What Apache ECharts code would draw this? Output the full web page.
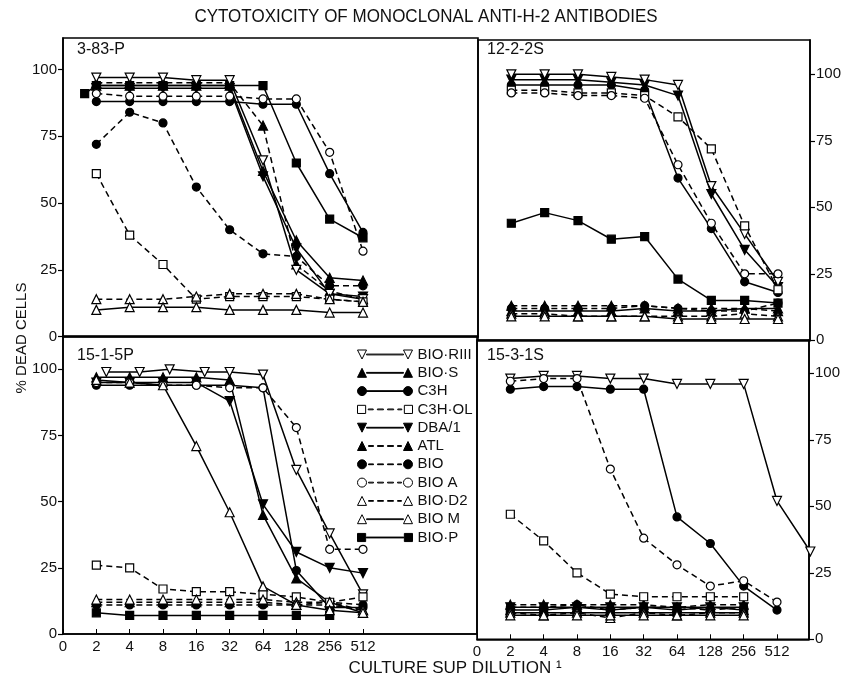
<!DOCTYPE html>
<html><head><meta charset="utf-8">
<script src="https://cdn.jsdelivr.net/npm/echarts@6/dist/echarts.min.js"></script>
<style>html,body{margin:0;padding:0;background:#fff}#c{width:845px;height:682px}</style>
</head><body><div id="c"></div>
<script>
// ---------- data ----------
const DILUTION_LABELS = ['0','2','4','8','16','32','64','128','256','512'];
const X = [1,2,3,4,5,6,7,8,9];               // axis position of dilutions 2..512
const SERIES_NAMES = ['BIO·RIII','BIO·S','C3H','C3H·OL','DBA/1','ATL','BIO','BIO A','BIO·D2','BIO M','BIO·P'];
const PANEL_LABELS = ['3-83-P','12-2-2S','15-1-5P','15-3-1S'];
const Y_TICKS = [0,25,50,75,100];

// % dead cells, one value per dilution (2 .. 512)
const P_383P = {
  'BIO·RIII': [97,97,97,96,96,66,25,16,14],
  'BIO·S':    [94,94,94,94,94,62,36,22,21],
  'C3H':      [88,88,88,88,88,87,87,61,39],
  'C3H·OL':   [61,38,27,14,15,15,15,14,13],
  'DBA/1':    [93,93,93,93,93,60,33,16,15],
  'ATL':      [95,95,95,95,95,79,27,17,14],
  'BIO':      [72,84,80,56,40,31,30,19,19],
  'BIO A':    [91,90,90,90,90,89,89,69,32],
  'BIO·D2':   [14,14,14,15,16,16,16,14,13],
  'BIO M':    [10,11,11,11,10,10,10,9,9],
  'BIO·P':    [91,94,94,94,94,94,94,65,44,37]
};
const P_383P_X = { 'BIO·P': [0.65,1,2,3,4,5,6,7,8,9] };

const P_1222S = {
  'BIO·RIII': [100,100,100,99,98,96,58,40,22],
  'BIO·S':    [11,11,11,11,12,11,11,12,12],
  'C3H':      [96,96,96,96,94,61,42,22,18],
  'C3H·OL':   [94,94,93,93,92,84,72,43,19],
  'DBA/1':    [98,98,98,97,96,92,55,34,20],
  'ATL':      [13,13,13,13,13,12,12,12,11],
  'BIO':      [12,12,12,12,13,12,11,11,14],
  'BIO A':    [93,93,92,92,91,66,44,25,25],
  'BIO·D2':   [10,10,9,9,9,9,9,10,9],
  'BIO M':    [9,9,9,9,9,8,8,8,8],
  'BIO·P':    [44,48,45,38,39,23,15,15,14]
};

const P_1515P = {
  'BIO·RIII': [99,99,100,99,99,98,62,38,15],
  'BIO·S':    [97,97,97,97,96,45,21,12,8],
  'C3H':      [94,94,94,94,94,93,24,10,10],
  'C3H·OL':   [26,25,17,16,16,15,14,12,14],
  'DBA/1':    [95,95,95,95,88,49,31,25,23],
  'ATL':      [12,12,12,12,12,12,11,11,9],
  'BIO':      [11,11,11,11,11,11,11,12,11],
  'BIO A':    [95,95,94,94,93,93,78,32,32],
  'BIO·D2':   [13,13,13,13,13,13,12,12,9],
  'BIO M':    [96,95,94,71,46,18,11,9,8],
  'BIO·P':    [8,7,7,7,7,7,7,7,null]
};
const P_1515P_X = { 'BIO·RIII': [1.3,2.3,3.2,4.25,5,6,7,8,9] };

const P_1531S = {
  'BIO·RIII': [98,99,99,98,98,96,96,96,52,33],
  'BIO·S':    [11,11,12,11,12,11,12,11],
  'C3H':      [94,95,95,94,94,46,36,20,11],
  'C3H·OL':   [47,37,25,17,16,16,16,16],
  'DBA/1':    [12,12,12,12,12,12,12,12],
  'ATL':      [13,13,13,13,13,12,13,13],
  'BIO':      [12,12,13,11,12,12,11,12],
  'BIO A':    [97,98,98,64,38,28,20,22,14],
  'BIO·D2':   [10,9,10,8,10,9,10,10],
  'BIO M':    [9,9,9,9,9,9,9,9],
  'BIO·P':    [10,10,10,10,10,10,10,10]
};
const P_1531S_X = { 'BIO·RIII': [1,2,3,4,5,6,7,8,9,10] };

// ---------- styles ----------
const STYLE = {
  'BIO·RIII': {sym:'triangle', rot:180, open:true,  dash:false},
  'BIO·S':    {sym:'triangle', rot:0,   open:false, dash:false},
  'C3H':      {sym:'circle',   rot:0,   open:false, dash:false},
  'C3H·OL':   {sym:'rect',     rot:0,   open:true,  dash:true},
  'DBA/1':    {sym:'triangle', rot:180, open:false, dash:false},
  'ATL':      {sym:'triangle', rot:0,   open:false, dash:true},
  'BIO':      {sym:'circle',   rot:0,   open:false, dash:true},
  'BIO A':    {sym:'circle',   rot:0,   open:true,  dash:true},
  'BIO·D2':   {sym:'triangle', rot:0,   open:true,  dash:true},
  'BIO M':    {sym:'triangle', rot:0,   open:true,  dash:false},
  'BIO·P':    {sym:'rect',     rot:0,   open:false, dash:false}
};
const FONT = '"Liberation Sans Narrow","Arial Narrow","Liberation Sans",Arial,sans-serif';
const INK = '#111';

// panel boxes in pixels: [left, top, width, height]
const PANELS = [
  {data:P_383P,  xs:P_383P_X,  box:[63,38,415,298.6], xMax:12.45, yMax:111.8, side:'left',  xLabels:false},
  {data:P_1222S, xs:{},        box:[478,40,332,300.3], xMax:9.96, yMax:112.9, side:'right', xLabels:false},
  {data:P_1515P, xs:P_1515P_X, box:[63,336,414,298],  xMax:12.42, yMax:112.6, side:'left',  xLabels:true},
  {data:P_1531S, xs:P_1531S_X, box:[477,340,332,299.3], xMax:9.96, yMax:112.5, side:'right', xLabels:true}
];

function markerPath(sym, rot, x0){
  const x1=x0+9, cx=x0+4.5, y0=0.5, y1=9.5;
  if(sym==='circle') return `M${x0} 5 A4.5 4.5 0 1 0 ${x1} 5 A4.5 4.5 0 1 0 ${x0} 5 Z`;
  if(sym==='rect') return `M${x0+0.5} ${y0+0.5} L${x1-0.5} ${y0+0.5} L${x1-0.5} ${y1-0.5} L${x0+0.5} ${y1-0.5} Z`;
  if(rot===180) return `M${x0} ${y0} L${x1} ${y0} L${cx} ${y1} Z`;
  return `M${cx} ${y0} L${x1} ${y1} L${x0} ${y1} Z`;
}
function iconPath(name){
  const s=STYLE[name];
  let p = markerPath(s.sym,s.rot,0)+' '+markerPath(s.sym,s.rot,46);
  const segs = s.dash ? [[11,16],[20,26],[30,36],[40,44]] : [[9,46]];
  segs.forEach(([a,b])=>{ p += ` M${a} 4.6 L${b} 4.6 L${b} 5.4 L${a} 5.4 Z`; });
  return 'path://'+p;
}

const grid=[], xAxis=[], yAxis=[], series=[];
PANELS.forEach((P,gi)=>{
  const [l,t,w,h]=P.box;
  grid.push({left:l, top:t, width:w, height:h, show:true, borderColor:'#000', borderWidth:1.6, backgroundColor:'transparent'});
  xAxis.push({
    type:'value', gridIndex:gi, min:0, max:P.xMax, interval:1,
    axisLine:{show:true, onZero:false, lineStyle:{color:'#000', width:1.6}},
    axisTick:{show:P.xLabels, inside:true, length:5, customValues:[0,1,2,3,4,5,6,7,8,9], lineStyle:{color:'#000', width:1}},
    axisLabel:{show:P.xLabels, customValues:[0,1,2,3,4,5,6,7,8,9], margin:5,
      formatter:v=>DILUTION_LABELS[Math.round(v)] ?? '', color:INK, fontSize:15, fontFamily:FONT},
    splitLine:{show:false}
  });
  yAxis.push({
    type:'value', gridIndex:gi, min:0, max:P.yMax, position:P.side,
    axisLine:{show:true, onZero:false, lineStyle:{color:'#000', width:1.6}},
    axisTick:{show:true, inside:false, length:5, customValues:Y_TICKS, lineStyle:{color:'#000', width:1.2}},
    axisLabel:{show:true, customValues:Y_TICKS, margin:6, color:INK, fontSize:15, fontFamily:FONT},
    splitLine:{show:false}
  });
  SERIES_NAMES.forEach(name=>{
    const vals=P.data[name]; if(!vals) return;
    const xs=P.xs[name]||X;
    const s=STYLE[name];
    const data=[];
    vals.forEach((v,i)=>{ if(v!=null) data.push([xs[i], v]); });
    series.push({
      type:'line', name, xAxisIndex:gi, yAxisIndex:gi, data, clip:false,
      symbol:s.sym, symbolRotate:s.rot, symbolSize:s.sym==='triangle'?9:8,
      lineStyle:{color:'#000', width:1.5, type:s.dash?[6,4]:'solid'},
      itemStyle:{color:s.open?'#fff':'#000', borderColor:'#000', borderWidth:1.2},
      emphasis:{disabled:true}, animation:false, z:s.open?3:2
    });
  });
});

const option={
  backgroundColor:'#fff',
  animation:false,
  grid, xAxis, yAxis, series,
  legend:{
    orient:'vertical', left:352, top:342,
    itemWidth:55, itemHeight:10, itemGap:3.3,
    selectedMode:false,
    textStyle:{color:INK, fontSize:15, lineHeight:14, fontFamily:FONT, padding:[0,0,0,0]},
    data:SERIES_NAMES.map(n=>({name:n, icon:iconPath(n),
      itemStyle:{color:STYLE[n].open?'#fff':'#000', borderColor:'#000', borderWidth:1}}))
  },
  graphic:[
    {type:'text', x:426, y:17, scaleY:1.1, style:{text:'CYTOTOXICITY OF MONOCLONAL ANTI-H-2 ANTIBODIES', align:'center', verticalAlign:'middle', fill:INK, fontSize:17, fontFamily:FONT}},
    {type:'text', x:22, y:338, rotation:Math.PI/2, style:{text:'% DEAD CELLS', align:'center', verticalAlign:'middle', fill:INK, fontSize:15, fontFamily:FONT}},
    {type:'text', x:455, y:668, style:{text:'CULTURE SUP DILUTION \u00B9', align:'center', verticalAlign:'middle', fill:INK, fontSize:17, fontFamily:FONT}},
    {type:'text', x:77, y:50, style:{text:PANEL_LABELS[0], verticalAlign:'middle', fill:INK, fontSize:16, fontFamily:FONT}},
    {type:'text', x:487, y:50, style:{text:PANEL_LABELS[1], verticalAlign:'middle', fill:INK, fontSize:16, fontFamily:FONT}},
    {type:'text', x:77, y:356, style:{text:PANEL_LABELS[2], verticalAlign:'middle', fill:INK, fontSize:16, fontFamily:FONT}},
    {type:'text', x:487, y:356, style:{text:PANEL_LABELS[3], verticalAlign:'middle', fill:INK, fontSize:16, fontFamily:FONT}}
  ]
};
const chart=echarts.init(document.getElementById('c'),null,{renderer:'canvas'});
chart.setOption(option);
</script></body></html>
